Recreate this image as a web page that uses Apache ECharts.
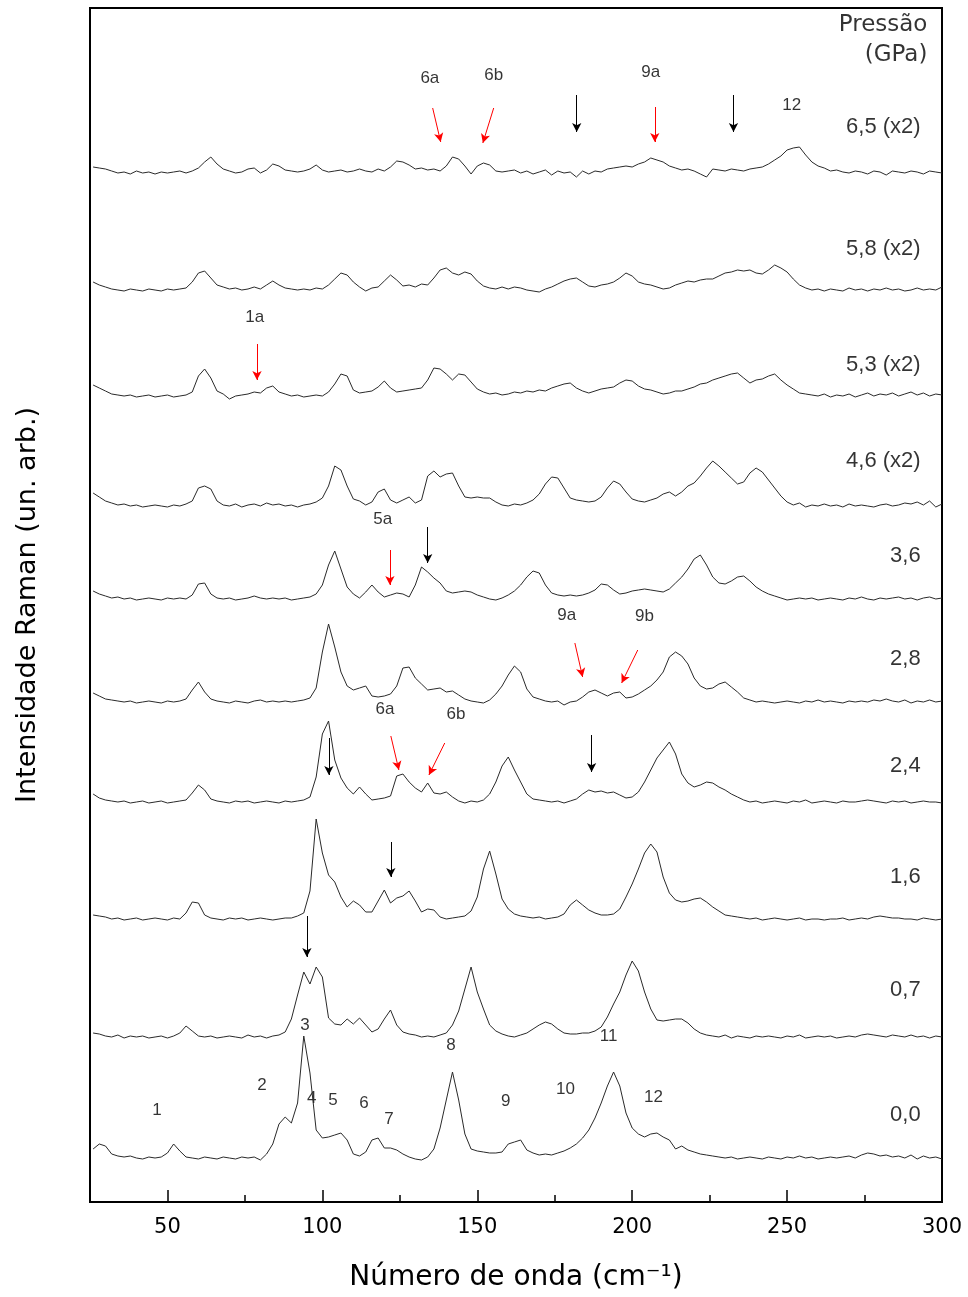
<!DOCTYPE html>
<html>
<head>
<meta charset="utf-8">
<script src="https://cdn.jsdelivr.net/npm/echarts@6/dist/echarts.min.js"></script>
<style>html,body{margin:0;padding:0;background:#fff}#c{width:968px;height:1297px}</style>
</head>
<body>
<div id="c"></div>
<script>
// Wavenumber grid (cm-1) shared by all spectra
const wnStart = 26, wnStep = 2, wnCount = 138;
const wavenumbers = Array.from({length: wnCount}, (_, i) => wnStart + i * wnStep);

// Pressure labels (GPa) bottom to top
const pressures = ['0,0', '0,7', '1,6', '2,4', '2,8', '3,6', '4,6 (x2)', '5,3 (x2)', '5,8 (x2)', '6,5 (x2)'];
// Vertical offset of each spectrum (arb. units)
const offsets = [44, 165, 283, 400, 500, 603, 696, 806, 912, 1030];

// Intensities above each spectrum's own baseline (arb. units)
const s00 = [9,14,12,4,2,1,2,0,-1,1,
 0,1,5,14,7,1,0,-1,1,0,
 -1,1,0,-1,1,0,1,-2,4,14,
 34,41,35,55,122,85,28,20,21,23,
 25,18,4,2,6,18,20,10,10,8,
 4,1,-1,-2,1,9,30,58,86,58,
 24,9,7,6,5,5,6,14,16,18,
 8,5,3,4,3,5,7,10,14,20,
 28,40,55,72,86,72,45,30,24,21,
 24,25,21,18,9,12,8,6,4,3,
 2,1,0,1,-1,0,1,0,-1,1,
 0,-1,1,0,2,0,1,-1,0,1,
 0,1,2,0,3,5,4,2,3,1,
 2,0,3,-1,2,0,1,-1];
const s07 = [4,3,1,0,2,-1,1,0,1,-1,
 0,1,-1,1,4,11,6,1,0,1,
 -1,0,1,0,-1,2,0,1,-1,1,
 2,5,18,42,65,53,70,60,19,13,
 12,18,13,19,12,5,8,18,27,12,
 5,3,2,0,1,0,2,4,12,26,
 48,70,45,28,12,6,3,1,0,2,
 4,8,12,15,13,8,4,3,3,4,
 4,6,10,20,33,45,62,76,66,45,
 28,17,16,17,18,18,14,8,4,2,
 1,0,2,-1,1,0,-1,1,0,1,
 0,-1,1,0,2,-1,0,1,0,1,
 -1,0,1,0,2,3,2,1,0,2,
 1,0,2,0,1,-1,1,0];
const s16 = [4,3,2,0,1,-1,0,1,-1,0,
 1,0,-1,1,0,6,17,16,4,1,
 0,-1,1,0,1,-1,0,1,0,-1,
 0,1,1,3,6,28,100,66,44,37,
 22,12,18,14,7,7,18,29,16,21,
 23,28,18,7,10,9,2,0,1,2,
 3,8,22,50,68,45,20,10,5,3,
 2,1,2,0,1,2,5,14,19,14,
 9,6,4,4,5,10,22,35,50,66,
 75,67,42,26,19,17,18,20,21,17,
 12,8,4,3,2,1,0,1,-1,0,
 1,0,-1,0,1,-1,0,0,-1,0,
 0,1,-1,0,1,0,2,3,2,1,
 1,0,0,-1,1,0,-1,0];
const s24 = [8,4,2,1,0,1,-1,0,1,-1,
 0,1,-1,0,1,2,9,17,12,3,
 1,0,-1,1,0,1,-1,0,1,0,
 -1,1,0,1,2,5,25,68,81,42,
 24,14,8,15,8,2,3,4,6,26,
 28,20,14,10,19,9,8,10,5,1,
 -1,1,0,2,8,20,36,45,32,20,
 8,3,2,1,0,1,-1,1,3,8,
 12,10,11,9,10,7,4,5,10,20,
 32,44,52,60,48,28,19,15,17,20,
 19,15,12,8,5,2,0,1,-1,0,
 1,0,-1,1,0,2,-1,0,1,0,
 -1,1,0,0,1,2,1,0,-1,1,
 0,1,-1,0,1,0,0,-1];
const s28 = [9,6,3,2,1,0,1,-1,0,1,
 0,-1,1,0,1,3,12,20,10,3,
 1,0,-1,1,0,-1,1,2,0,1,
 0,1,0,1,2,4,14,50,78,55,
 30,16,12,14,16,6,5,6,8,16,
 34,35,24,18,12,13,14,10,11,7,
 3,1,0,-1,2,8,16,27,36,30,
 13,5,3,1,0,1,-3,0,1,5,
 10,12,9,6,9,10,4,5,8,12,
 16,22,30,45,50,46,38,24,16,13,
 14,18,20,15,10,4,2,0,1,0,
 -1,0,1,0,-1,1,0,2,0,1,
 0,-1,1,0,1,0,2,1,3,1,
 0,2,-1,1,0,2,0,1];
const s36 = [8,5,3,1,2,0,1,-1,0,1,
 0,-1,1,0,1,0,4,15,16,5,
 1,0,1,-1,0,1,3,1,0,1,
 0,1,-1,0,1,2,5,14,34,48,
 30,12,5,1,7,14,7,2,4,6,
 5,2,14,32,27,21,16,8,6,7,
 8,7,4,2,0,-1,1,4,8,14,
 22,28,26,14,6,4,3,4,3,4,
 6,9,15,14,9,5,6,8,9,10,
 9,8,7,10,16,22,30,40,44,34,
 22,16,15,18,22,23,18,12,8,5,
 3,1,-1,0,1,0,1,-1,0,1,
 0,-1,1,0,2,0,-1,1,0,1,
 2,0,1,-1,1,2,0,1];
const s46 = [13,9,5,3,1,2,0,1,-1,0,
 1,0,-1,1,0,2,5,18,20,17,
 5,1,0,2,-1,1,2,0,3,1,
 2,0,1,-1,1,2,4,8,20,40,
 36,20,7,5,1,4,14,17,6,3,
 6,9,3,6,30,35,29,32,33,20,
 9,8,9,8,8,4,1,0,2,1,
 3,6,12,22,29,28,18,8,6,5,
 4,5,9,18,25,22,14,7,5,4,
 6,8,12,14,10,14,20,23,30,38,
 45,40,34,28,22,24,33,38,34,26,
 18,10,4,1,3,-1,1,0,2,0,
 1,-1,2,0,1,0,-1,1,2,0,
 1,3,2,4,1,5,-1,2];
const s53 = [11,8,5,2,1,0,1,-1,0,1,
 -1,0,1,-1,0,1,4,20,27,18,
 5,2,-3,0,1,2,4,3,8,10,
 4,2,0,1,-1,0,1,0,4,12,
 22,20,6,3,4,5,9,15,8,4,
 5,6,7,8,16,28,27,22,16,22,
 21,14,7,4,2,3,1,2,4,3,
 5,4,6,5,8,10,12,13,8,5,
 3,5,7,8,9,13,16,15,10,7,
 6,4,2,3,5,5,7,9,12,13,
 16,18,20,22,23,18,13,16,17,20,
 22,16,11,7,3,2,1,0,2,-1,
 1,0,2,-1,1,3,0,2,1,3,
 0,2,4,1,3,0,2,1];
const s58 = [8,5,3,1,0,-1,1,0,-1,1,
 0,-1,1,0,1,2,8,17,19,12,
 5,3,1,2,0,1,3,1,5,9,
 5,2,1,0,1,0,2,1,5,11,
 17,15,8,3,-1,2,3,9,15,10,
 4,5,3,6,5,12,20,22,17,15,
 18,16,9,4,2,1,3,1,3,2,
 0,-1,-2,1,3,6,9,11,12,8,
 4,3,5,6,8,12,17,14,8,6,
 5,3,1,2,5,7,9,8,10,11,
 11,14,17,18,20,19,20,17,16,20,
 25,22,18,11,5,2,0,1,-1,1,
 0,-1,2,0,1,-1,1,0,2,0,
 1,-1,0,2,0,1,0,3];
const s65 = [5,4,3,1,-1,0,-2,1,-1,0,
 -2,0,-1,0,1,-1,1,4,10,15,
 8,3,1,-1,0,3,4,-1,2,8,
 6,2,1,0,1,3,7,2,0,1,
 2,0,1,3,1,0,3,1,5,11,
 10,7,3,4,2,3,1,6,15,13,
 6,-2,6,9,7,1,0,1,2,-1,
 1,-2,0,2,-3,1,-1,0,-5,1,
 -2,1,0,3,4,5,6,5,8,10,
 14,12,10,6,4,2,3,1,-2,-5,
 3,2,1,3,2,1,3,4,5,8,
 12,16,22,24,25,17,10,6,4,1,
 2,0,-1,1,0,-2,1,0,-3,1,
 0,-1,1,0,-2,1,0,-1];
const spectra = [s00, s07, s16, s24, s28, s36, s46, s53, s58, s65];

// Axis ticks
const majorTicks = [50, 100, 150, 200, 250, 300];
const minorTicks = [75, 125, 175, 225, 275];

// Peak labels: [wavenumber, intensity, text]
const peakLabels = [
 [134.7, 1124, '6a'], [155.3, 1127, '6b'], [206, 1130, '9a'], [251.5, 1097, '12'],
 [78.2, 885, '1a'], [119.5, 683, '5a'], [178.9, 587, '9a'], [204, 586, '9b'],
 [120.2, 493, '6a'], [143.1, 488, '6b'],
 [94.4, 177, '3'], [141.5, 157, '8'], [192.4, 166, '11'],
 [46.6, 92, '1'], [80.5, 117, '2'], [96.6, 104, '4'], [103.4, 102, '5'], [113.4, 99, '6'],
 [121.5, 83, '7'], [159.2, 101, '9'], [178.5, 113, '10'], [206.9, 105, '12']
];
// Pressure label positions (right-aligned): [wavenumber, intensity]
const pressureLabelPos = [[293.1, 87], [293.1, 212], [293.1, 325], [293.1, 436], [293.1, 543],
 [293.1, 646], [293.1, 741], [293.1, 837], [293.1, 953], [293.1, 1075]];
const headerLabels = [[295.3, 1177, 'Pressão'], [295.3, 1147, '(GPa)']];

// Arrows: [x1, y1, x2, y2]
const redArrows = [
 [135.6, 1094, 138.2, 1060], [155.3, 1094, 151.8, 1059], [207.3, 1095, 207.3, 1060],
 [78.9, 858, 78.9, 822], [121.8, 652, 121.8, 617],
 [181.5, 559, 184, 525], [201.8, 552, 196.6, 519],
 [122.1, 466, 124.7, 432], [139.5, 459, 134.4, 427]
];
const blackArrows = [
 [182.1, 1107, 182.1, 1070], [232.7, 1107, 232.7, 1070], [134, 675, 134, 639],
 [102.1, 464, 102.1, 427], [186.9, 467, 186.9, 430], [122.1, 360, 122.1, 325], [95, 286, 95, 245]
];

const chart = echarts.init(document.getElementById('c'), null, {renderer: 'canvas'});

const specSeries = spectra.map((vals, k) => ({
  type: 'line', xAxisIndex: 0, yAxisIndex: 0,
  data: vals.map((v, i) => [wavenumbers[i], offsets[k] + v]),
  showSymbol: false, symbol: 'none', silent: true,
  lineStyle: {color: '#2a2a2a', width: 1}
}));

function arrowLines(list) {
  return list.map(a => [{coord: [a[0], a[1]]}, {coord: [a[2], a[3]]}]);
}

const option = {
  animation: false,
  backgroundColor: '#fff',
  grid: {left: 90, right: 26, top: 8, bottom: 95, show: true, borderColor: '#000', borderWidth: 2, backgroundColor: 'transparent'},
  xAxis: [{
    type: 'value', min: 25, max: 300,
    axisLine: {show: false}, splitLine: {show: false},
    axisTick: {show: true, inside: true, length: 12, customValues: majorTicks, lineStyle: {color: '#000', width: 1.5}},
    axisLabel: {show: true, customValues: majorTicks, margin: 15, color: '#000', fontSize: 21, fontFamily: 'DejaVu Sans'},
    name: 'Número de onda (cm⁻¹)', nameLocation: 'middle', nameGap: 62,
    nameTextStyle: {fontSize: 28, fontFamily: 'DejaVu Sans', color: '#000'}
  }, {
    type: 'value', min: 25, max: 300, position: 'bottom',
    axisLine: {show: false}, splitLine: {show: false}, axisLabel: {show: false},
    axisTick: {show: true, inside: true, length: 7, customValues: minorTicks, lineStyle: {color: '#000', width: 1.5}}
  }],
  yAxis: [{
    type: 'value', min: 0, max: 1194,
    axisLine: {show: false}, axisTick: {show: false}, axisLabel: {show: false}, splitLine: {show: false},
    name: 'Intensidade Raman (un. arb.)', nameLocation: 'middle', nameGap: 49, nameRotate: 90,
    nameTextStyle: {fontSize: 27, fontFamily: 'DejaVu Sans', color: '#000'}
  }],
  series: specSeries.concat([
    {
      type: 'scatter', data: peakLabels, symbolSize: 0, silent: true,
      label: {show: true, position: 'inside', formatter: p => p.data[2], color: '#000', fontSize: 17, fontFamily: 'Liberation Sans'}
    },
    {
      type: 'scatter', data: pressureLabelPos.map((p, i) => [p[0], p[1], pressures[i]]), symbolSize: 0, silent: true,
      label: {show: true, position: 'left', distance: 0, formatter: p => p.data[2], color: '#000', fontSize: 22, fontFamily: 'Liberation Sans'}
    },
    {
      type: 'scatter', data: headerLabels, symbolSize: 0, silent: true,
      label: {show: true, position: 'left', distance: 0, formatter: p => p.data[2], color: '#000', fontSize: 23, fontFamily: 'DejaVu Sans'}
    },
    {
      type: 'line', data: [], silent: true,
      markLine: {silent: true, symbol: ['none', 'arrow'], symbolSize: [7, 9], label: {show: false},
        lineStyle: {color: '#ff0000', width: 1, type: 'solid'}, emphasis: {disabled: true},
        data: arrowLines(redArrows)}
    },
    {
      type: 'line', data: [], silent: true,
      markLine: {silent: true, symbol: ['none', 'arrow'], symbolSize: [7, 9], label: {show: false},
        lineStyle: {color: '#000', width: 1, type: 'solid'}, emphasis: {disabled: true},
        data: arrowLines(blackArrows)}
    }
  ])
};
chart.setOption(option);
</script>
</body>
</html>
